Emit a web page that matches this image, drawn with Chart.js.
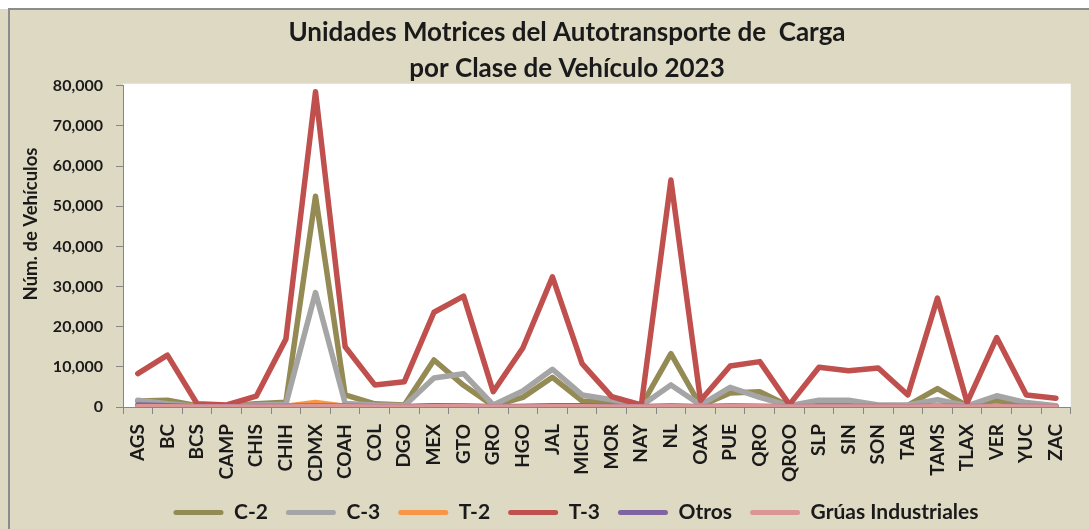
<!DOCTYPE html>
<html>
<head>
<meta charset="utf-8">
<title>Unidades Motrices del Autotransporte de Carga 2023</title>
<script src="https://cdn.jsdelivr.net/npm/chart.js@4.4.1/dist/chart.umd.min.js"></script>
<style>
    html, body { margin: 0; padding: 0; background: #ffffff; }
    #bg { position: absolute; left: 0; top: 9px; width: 1089px; height: 520px; background: #ddd9c3; }
    #edge { position: absolute; left: 8px; top: 8px; width: 1081px; height: 521px; border-left: 2px solid #8c8c8c; border-top: 2px solid #8c8c8c; box-sizing: border-box; }
    #wrap { position: absolute; left: 0; top: 0; width: 1089px; height: 529px; }
</style>
</head>
<body>
<div id="bg"></div>
<div id="edge"></div>
<div id="wrap"><canvas id="chart" width="1089" height="529"></canvas></div>
<script>
// states (x axis)
const estados = ['AGS', 'BC', 'BCS', 'CAMP', 'CHIS', 'CHIH', 'CDMX', 'COAH', 'COL', 'DGO',
    'MEX', 'GTO', 'GRO', 'HGO', 'JAL', 'MICH', 'MOR', 'NAY', 'NL', 'OAX', 'PUE', 'QRO',
    'QROO', 'SLP', 'SIN', 'SON', 'TAB', 'TAMS', 'TLAX', 'VER', 'YUC', 'ZAC'];

// vehicle counts
const c2 = [1500, 1700, 300, 300, 800, 1200, 52500, 3000, 800, 500,
    11700, 5400, 300, 2400, 7400, 1500, 1200, 300, 13300, 300, 3500, 3800,
    200, 1300, 900, 300, 400, 4600, 300, 1700, 500, 200];
const c3 = [1700, 800, 200, 200, 500, 700, 28500, 900, 500, 300,
    7200, 8300, 500, 4000, 9400, 3000, 1800, 300, 5500, 500, 4900, 2400,
    300, 1700, 1700, 500, 500, 1800, 300, 2800, 1100, 300];
const t2 = [200, 300, 50, 50, 100, 200, 1100, 200, 50, 50,
    300, 300, 50, 150, 200, 150, 50, 50, 300, 50, 300, 200,
    50, 100, 100, 100, 50, 200, 50, 200, 50, 50];
const t3 = [8300, 12900, 800, 500, 2700, 16900, 78500, 15000, 5500, 6300,
    23600, 27600, 3800, 14700, 32400, 10800, 2600, 500, 56500, 1600, 10200, 11300,
    600, 9900, 9000, 9700, 3000, 27100, 1100, 17300, 3000, 2200];
const otros = [500, 300, 50, 50, 100, 100, 300, 200, 50, 50,
    300, 200, 50, 100, 300, 300, 100, 50, 200, 50, 200, 100,
    50, 100, 100, 100, 50, 200, 50, 200, 100, 50];
const gruas = [40, 40, 20, 20, 30, 30, 150, 40, 20, 20,
    60, 60, 20, 30, 60, 40, 20, 20, 80, 20, 50, 40,
    20, 30, 30, 30, 20, 50, 20, 40, 20, 20];

const yMax = 80000;
const yStep = 10000;

const series = [
    { label: 'C-2', data: c2, color: '#948a54' },
    { label: 'C-3', data: c3, color: '#a5a5a5' },
    { label: 'T-2', data: t2, color: '#f79646' },
    { label: 'T-3', data: t3, color: '#c0504d' },
    { label: 'Otros', data: otros, color: '#8064a2' },
    { label: 'Grúas Industriales', data: gruas, color: '#d99694' }
];

const FONT = 'Lato';
const INK = '#1a1a1a';
const AXIS = '#868686';

// white plot area
const plotBg = {
    id: 'plotBg',
    beforeDraw(chart) {
        const { ctx, chartArea: a } = chart;
        ctx.save();
        ctx.fillStyle = '#ffffff';
        ctx.fillRect(a.left, a.top - 2, a.right - a.left, a.bottom - a.top + 2);
        ctx.restore();
    }
};

// rotated axis title, sits a bit above the middle like the original
const yTitle = {
    id: 'yTitle',
    afterDraw(chart) {
        const ctx = chart.ctx;
        ctx.save();
        ctx.translate(31, 224);
        ctx.rotate(-Math.PI / 2);
        ctx.font = 'bold 18.5px ' + FONT;
        ctx.fillStyle = INK;
        ctx.textAlign = 'center';
        ctx.textBaseline = 'middle';
        ctx.fillText('Núm. de Vehículos', 0, 0);
        ctx.restore();
    }
};

// title and legend are centred a little right of the canvas middle in the original
const recentre = {
    id: 'recentre',
    afterLayout(chart) {
        const move = (box, cx) => {
            if (!box) return;
            const dx = cx - (box.left + box.right) / 2;
            box.left += dx;
            box.right += dx;
        };
        move(chart.titleBlock, 567);
        move(chart.legend, 576);
    }
};

function draw() {
    const ctx = document.getElementById('chart').getContext('2d');

    new Chart(ctx, {
        type: 'line',
        data: {
            labels: estados,
            datasets: series.map((s, i) => ({
                label: s.label,
                data: s.data,
                borderColor: s.color,
                backgroundColor: s.color,
                borderWidth: 5.5,
                borderJoinStyle: 'round',
                borderCapStyle: 'round',
                pointRadius: 0,
                tension: 0,
                fill: false,
                order: series.length - i   // first series drawn underneath, like Excel
            }))
        },
        options: {
            responsive: false,
            animation: false,
            layout: { padding: { left: 0, right: 16, top: 0, bottom: -4 } },
            plugins: {
                tooltip: { enabled: false },
                title: {
                    display: true,
                    text: ['Unidades Motrices del Autotransporte de  Carga', 'por Clase de Vehículo 2023'],
                    color: INK,
                    font: { family: FONT, size: 26, weight: 'bold', lineHeight: 1.35 },
                    padding: { top: 15.5, bottom: 0 }
                },
                legend: {
                    position: 'bottom',
                    labels: {
                        color: INK,
                        font: { family: FONT, size: 21, weight: 'bold' },
                        boxWidth: 50,
                        boxHeight: 5,
                        padding: 18,
                        generateLabels: chart => chart.data.datasets.map((ds, i) => ({
                            text: ds.label,
                            fillStyle: ds.borderColor,
                            strokeStyle: ds.borderColor,
                            lineWidth: 0,
                            borderRadius: 2.5,
                            fontColor: INK,
                            hidden: false,
                            datasetIndex: i
                        }))
                    }
                }
            },
            scales: {
                x: {
                    offset: true,
                    afterFit: scale => { scale.height = 77; },
                    grid: {
                        offset: true,
                        drawOnChartArea: false,
                        drawTicks: true,
                        tickLength: 7,
                        color: AXIS
                    },
                    border: { display: true, color: AXIS, width: 1 },
                    ticks: {
                        autoSkip: false,
                        minRotation: 90,
                        maxRotation: 90,
                        padding: 10,
                        color: INK,
                        font: { family: FONT, size: 19, weight: 'bold' }
                    }
                },
                y: {
                    min: 0,
                    max: yMax,
                    afterFit: scale => { scale.width = 123; },
                    grid: {
                        drawOnChartArea: false,
                        drawTicks: true,
                        tickLength: 7,
                        color: AXIS
                    },
                    border: { display: true, color: AXIS, width: 1 },
                    ticks: {
                        stepSize: yStep,
                        padding: 13,
                        color: INK,
                        font: { family: FONT, size: 16, weight: 'bold' },
                        callback: v => v.toLocaleString('en-US')
                    }
                }
            }
        },
        plugins: [plotBg, yTitle, recentre]
    });
}

document.fonts.load('bold 16px ' + FONT).then(draw, draw);
</script>
</body>
</html>
